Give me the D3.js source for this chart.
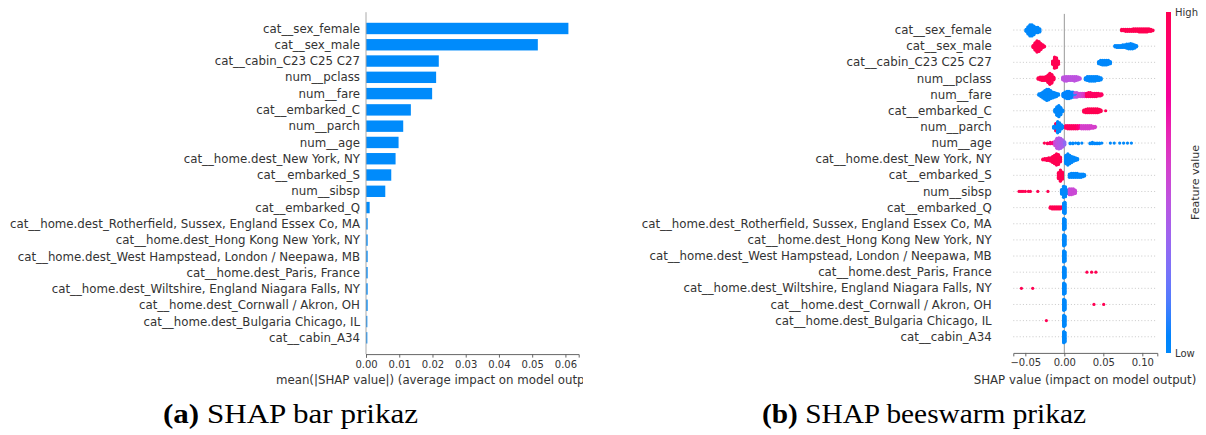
<!DOCTYPE html>
<html>
<head>
<meta charset="utf-8">
<script src="https://cdn.jsdelivr.net/npm/d3@7"></script>
<style>
  html, body { margin: 0; padding: 0; background: #ffffff; }
  svg { display: block; }
  text { font-family: "DejaVu Sans", sans-serif; }
  .caption { font-family: "Liberation Serif", "DejaVu Serif", serif; }
</style>
</head>
<body>
<svg id="fig" width="1206" height="435"></svg>
<script>
// Feature names, most important first
const features = [
  "cat__sex_female",
  "cat__sex_male",
  "cat__cabin_C23 C25 C27",
  "num__pclass",
  "num__fare",
  "cat__embarked_C",
  "num__parch",
  "num__age",
  "cat__home.dest_New York, NY",
  "cat__embarked_S",
  "num__sibsp",
  "cat__embarked_Q",
  "cat__home.dest_Rotherfield, Sussex, England Essex Co, MA",
  "cat__home.dest_Hong Kong New York, NY",
  "cat__home.dest_West Hampstead, London / Neepawa, MB",
  "cat__home.dest_Paris, France",
  "cat__home.dest_Wiltshire, England Niagara Falls, NY",
  "cat__home.dest_Cornwall / Akron, OH",
  "cat__home.dest_Bulgaria Chicago, IL",
  "cat__cabin_A34"
];

// mean(|SHAP value|) per feature
const meanAbsShap = [
  0.0609, 0.0517, 0.0219, 0.0211, 0.0199, 0.0135, 0.0112, 0.0098, 0.0089, 0.0076,
  0.0058, 0.0011, 0.0005, 0.0005, 0.0005, 0.0005, 0.0005, 0.0005, 0.0004, 0.0004
];

const barTicks = [0, 0.01, 0.02, 0.03, 0.04, 0.05, 0.06];
const swarmTicks = [-0.05, 0, 0.05, 0.1];

// Beeswarm points per feature: [SHAP value, number of points, feature value 0 = low .. 1 = high]
const swarmSexFemale = [
  [-0.049, 4, 0], [-0.0465, 12, 0], [-0.044, 18, 0], [-0.0415, 18, 0], [-0.039, 14, 0],
  [-0.0365, 9, 0], [-0.034, 9, 0], [-0.0315, 6, 0],
  [0.0735, 3, 1], [0.076, 3, 1], [0.0785, 4, 1], [0.081, 4, 1], [0.0835, 4, 1], [0.086, 4, 1],
  [0.0885, 5, 1], [0.091, 5, 1], [0.0935, 5, 1], [0.096, 6, 1], [0.0985, 6, 1], [0.101, 6, 1],
  [0.1035, 6, 1], [0.106, 6, 1], [0.1085, 5, 1], [0.111, 4, 1], [0.1135, 2, 1]
];
const swarmSexMale = [
  [-0.040, 4, 1], [-0.0375, 12, 1], [-0.035, 18, 1], [-0.0325, 16, 1], [-0.030, 10, 1],
  [-0.0275, 5, 1], [-0.0255, 2, 1],
  [0.065, 3, 0], [0.0675, 4, 0], [0.070, 4, 0], [0.0725, 4, 0], [0.075, 5, 0], [0.0775, 5, 0],
  [0.080, 7, 0], [0.0825, 8, 0], [0.085, 9, 0], [0.0875, 8, 0], [0.090, 6, 0], [0.0925, 3, 0]
];
const swarmCabinC23 = [
  [-0.015, 6, 1], [-0.0125, 18, 1], [-0.010, 16, 1], [-0.0075, 6, 1],
  [0.044, 4, 0], [0.0465, 7, 0], [0.049, 8, 0], [0.0515, 8, 0], [0.054, 8, 0], [0.0565, 7, 0],
  [0.059, 4, 0]
];
const swarmPclass = [
  [-0.0335, 3, 1], [-0.031, 5, 1], [-0.0285, 6, 1], [-0.026, 6, 1], [-0.0235, 7, 1],
  [-0.021, 12, 1], [-0.0185, 18, 1], [-0.016, 14, 1], [-0.0135, 5, 1],
  [-0.002, 5, 0.45], [0.0005, 8, 0.45], [0.003, 8, 0.45], [0.0055, 7, 0.45], [0.008, 7, 0.45],
  [0.0105, 7, 0.45], [0.013, 8, 0.45], [0.0155, 7, 0.45], [0.018, 5, 0.45], [0.020, 3, 0.45],
  [0.027, 4, 0], [0.0295, 7, 0], [0.032, 8, 0], [0.0345, 8, 0], [0.037, 8, 0], [0.0395, 8, 0],
  [0.042, 7, 0], [0.0445, 6, 0], [0.047, 4, 0]
];
const swarmFare = [
  [-0.0325, 3, 0], [-0.030, 6, 0], [-0.0275, 10, 0], [-0.025, 14, 0], [-0.0225, 18, 0],
  [-0.020, 17, 0], [-0.0175, 13, 0], [-0.015, 10, 0], [-0.0125, 8, 0], [-0.010, 6, 0],
  [-0.0075, 3, 0],
  [-0.0015, 6, 0.05], [0.001, 10, 0.05], [0.0035, 12, 0.05], [0.006, 12, 0.05], [0.0085, 10, 0.05],
  [0.011, 9, 0.05], [0.0135, 6, 0.1], [0.016, 5, 0.1],
  [0.0135, 2, 0.45], [0.016, 3, 0.45], [0.0185, 6, 0.5], [0.021, 6, 0.5], [0.0235, 6, 0.55],
  [0.026, 6, 0.6],
  [0.0285, 6, 0.95], [0.031, 7, 0.95], [0.0335, 7, 0.95], [0.036, 6, 0.95], [0.0385, 6, 0.95],
  [0.041, 6, 0.95], [0.0435, 5, 0.95], [0.046, 4, 0.95], [0.048, 3, 0.95]
];
const swarmEmbarkedC = [
  [-0.012, 5, 0], [-0.0095, 14, 0], [-0.007, 18, 0], [-0.0045, 12, 0], [-0.002, 3, 0],
  [0.025, 4, 1], [0.0275, 6, 1], [0.030, 7, 1], [0.0325, 7, 1], [0.035, 7, 1], [0.0375, 7, 1],
  [0.040, 7, 1], [0.0425, 7, 1], [0.045, 5, 1], [0.047, 3, 1], [0.053, 1, 1]
];
const swarmParch = [
  [-0.0135, 4, 0], [-0.011, 10, 0], [-0.011, 2, 1], [-0.0085, 18, 0], [-0.006, 14, 0],
  [-0.0035, 7, 0], [-0.0015, 3, 0],
  [0.002, 5, 0.95], [0.0045, 6, 0.95], [0.007, 6, 0.95], [0.0095, 6, 0.95], [0.012, 6, 0.95],
  [0.0145, 6, 0.95], [0.017, 6, 0.9], [0.0195, 5, 0.8],
  [0.022, 6, 0.55], [0.0245, 6, 0.55], [0.027, 6, 0.55], [0.0295, 6, 0.55], [0.032, 6, 0.55],
  [0.0345, 5, 0.55], [0.037, 4, 0.55], [0.0395, 3, 0.55]
];
const swarmAge = [
  [-0.0255, 1, 1], [-0.0215, 2, 1], [-0.018, 3, 0.9], [-0.015, 3, 0.85],
  [-0.012, 8, 0.5], [-0.0095, 16, 0.45], [-0.007, 18, 0.42], [-0.0045, 16, 0.4],
  [-0.002, 12, 0.38], [0.0005, 6, 0.3],
  [0.0075, 2, 0], [0.011, 2, 0], [0.0145, 1, 0], [0.018, 2, 0], [0.0225, 1, 0],
  [0.033, 2, 0], [0.036, 3, 0], [0.039, 2, 0], [0.042, 2, 0], [0.045, 2, 0], [0.048, 1, 0],
  [0.059, 1, 0], [0.064, 1, 0], [0.071, 1, 0], [0.076, 1, 0], [0.081, 1, 0], [0.086, 1, 0]
];
const swarmNewYork = [
  [-0.0275, 2, 1], [-0.025, 3, 1], [-0.0225, 4, 1], [-0.020, 5, 1], [-0.0175, 6, 1],
  [-0.015, 10, 1], [-0.0125, 14, 1], [-0.010, 18, 1], [-0.0075, 16, 1], [-0.005, 8, 1],
  [0.002, 14, 0], [0.0045, 18, 0], [0.007, 14, 0], [0.0095, 10, 0], [0.012, 7, 0],
  [0.0145, 5, 0], [0.017, 3, 0]
];
const swarmEmbarkedS = [
  [-0.0075, 10, 1], [-0.005, 18, 1], [-0.0025, 12, 1],
  [0.0065, 6, 0], [0.009, 7, 0], [0.0115, 7, 0], [0.014, 7, 0], [0.0165, 7, 0], [0.019, 6, 0],
  [0.0215, 6, 0], [0.024, 5, 0], [0.026, 3, 0]
];
const swarmSibsp = [
  [-0.058, 1, 1], [-0.0555, 1, 1], [-0.053, 1, 1], [-0.050, 1, 1], [-0.046, 1, 1],
  [-0.0435, 1, 1], [-0.034, 1, 1], [-0.021, 1, 1],
  [-0.0035, 8, 0], [-0.001, 18, 0], [0.0015, 16, 0], [0.004, 6, 0],
  [0.0065, 10, 0.5], [0.009, 10, 0.5], [0.0115, 9, 0.5], [0.014, 6, 0.5]
];
const swarmEmbarkedQ = [
  [-0.018, 3, 1], [-0.0155, 4, 1], [-0.013, 4, 1], [-0.0105, 4, 1], [-0.008, 4, 1],
  [-0.0055, 4, 1], [-0.003, 3, 1],
  [-0.0008, 16, 0], [0.0008, 18, 0]
];
const swarmRotherfield = [[-0.0008, 16, 0], [0.0008, 14, 0]];
const swarmHongKong = [[-0.0008, 16, 0], [0.0008, 14, 0]];
const swarmWestHampstead = [[-0.0008, 16, 0], [0.0008, 14, 0]];
const swarmParis = [[-0.0008, 16, 0], [0.0008, 14, 0], [0.029, 1, 1], [0.035, 1, 1], [0.0405, 1, 1]];
const swarmWiltshire = [[-0.0008, 16, 0], [0.0008, 14, 0], [-0.055, 1, 1], [-0.0405, 1, 1]];
const swarmCornwall = [[-0.0008, 16, 0], [0.0008, 14, 0], [0.038, 1, 1], [0.0505, 1, 1]];
const swarmBulgaria = [[-0.0008, 16, 0], [0.0008, 14, 0], [-0.023, 1, 1]];
const swarmCabinA34 = [[-0.0008, 16, 0], [0.0008, 14, 0]];

const swarmRows = [
  swarmSexFemale, swarmSexMale, swarmCabinC23, swarmPclass, swarmFare, swarmEmbarkedC,
  swarmParch, swarmAge, swarmNewYork, swarmEmbarkedS, swarmSibsp, swarmEmbarkedQ,
  swarmRotherfield, swarmHongKong, swarmWestHampstead, swarmParis, swarmWiltshire,
  swarmCornwall, swarmBulgaria, swarmCabinA34
];

const svg = d3.select("#fig");
const blue = "#008bfb";
const textColor = "#333333";
const axisColor = "#666666";
const labelSize = 11.8;

// red_blue colour map: constant lightness, hue swept from blue to red in LCh
const featureColor = d3.interpolateHcl(d3.hcl(266.9, 70, 54), d3.hcl(20.3, 90, 54));

/* ---------------- (a) bar chart ---------------- */
const xBar = d3.scaleLinear().domain([0, 0.064]).range([366, 578.7]);
const yBar = d3.scalePoint().domain(features).range([12.2, 354.1]).padding(1);
const barH = yBar.step() * 0.7;

const gBar = svg.append("g");
gBar.selectAll("rect.bar")
  .data(features)
  .join("rect")
  .attr("class", "bar")
  .attr("x", xBar(0))
  .attr("y", d => yBar(d) - barH / 2)
  .attr("width", (d, i) => xBar(meanAbsShap[i]) - xBar(0))
  .attr("height", barH)
  .attr("fill", blue);

gBar.append("line")
  .attr("x1", xBar(0)).attr("x2", xBar(0))
  .attr("y1", 12.2).attr("y2", 354.1)
  .attr("stroke", "#aaaaaa").attr("stroke-width", 1);

gBar.selectAll("text.ylab")
  .data(features)
  .join("text")
  .attr("class", "ylab")
  .attr("x", 360)
  .attr("y", d => yBar(d))
  .attr("dy", "0.35em")
  .attr("text-anchor", "end")
  .attr("font-size", labelSize)
  .attr("fill", textColor)
  .text(d => d);

const barAxis = gBar.append("g")
  .attr("transform", "translate(0,354.1)")
  .call(d3.axisBottom(xBar).tickValues(barTicks).tickFormat(d3.format(".2f")).tickSize(3.5).tickPadding(3));
barAxis.select(".domain").attr("stroke", axisColor);
barAxis.selectAll(".tick line").attr("stroke", axisColor);
barAxis.selectAll(".tick text").attr("font-size", 10).attr("fill", textColor)
  .attr("font-family", "DejaVu Sans");

svg.append("clipPath").attr("id", "clipA")
  .append("rect").attr("x", 0).attr("y", 0).attr("width", 583).attr("height", 435);
gBar.append("text")
  .attr("clip-path", "url(#clipA)")
  .attr("x", (xBar.range()[0] + xBar.range()[1]) / 2)
  .attr("y", 384)
  .attr("text-anchor", "middle")
  .attr("font-size", labelSize)
  .attr("fill", textColor)
  .text("mean(|SHAP value|) (average impact on model output magnitude)");

/* ---------------- (b) beeswarm ---------------- */
const xSw = d3.scaleLinear().domain([-0.0654, 0.1192]).range([1013.3, 1157.3]);
const ySw = d3.scalePoint().domain(features).range([13.9, 352.9]).padding(1);
const halfRow = 5.9;
const dotR = 1.6;

const gSw = svg.append("g");

// dotted row guides
gSw.selectAll("line.guide")
  .data(features)
  .join("line")
  .attr("class", "guide")
  .attr("x1", xSw.range()[0]).attr("x2", xSw.range()[1])
  .attr("y1", d => ySw(d)).attr("y2", d => ySw(d))
  .attr("stroke", "#bbbbbb").attr("stroke-width", 0.8)
  .attr("stroke-dasharray", "1 2.2");

// zero line
gSw.append("line")
  .attr("x1", xSw(0)).attr("x2", xSw(0))
  .attr("y1", 13.9).attr("y2", 352.9)
  .attr("stroke", "#999999").attr("stroke-width", 1);

// stack the points of each bin alternately above and below the row
function layoutRow(groups) {
  const counts = new Map();
  const pts = [];
  groups.forEach(([v, n, lv]) => {
    const key = v.toFixed(5);
    for (let k = 0; k < n; k++) {
      const c = counts.get(key) || 0;
      counts.set(key, c + 1);
      const off = c === 0 ? 0 : (c % 2 ? (c + 1) / 2 : -c / 2);
      pts.push({ v, lv, off });
    }
  });
  const maxOff = d3.max(pts, p => Math.abs(p.off)) || 1;
  pts.forEach(p => { p.dy = p.off / maxOff; });
  return pts;
}

const swarmPoints = [];
swarmRows.forEach((groups, i) => {
  layoutRow(groups).forEach(p => swarmPoints.push({ ...p, row: features[i] }));
});

gSw.selectAll("circle.pt")
  .data(swarmPoints)
  .join("circle")
  .attr("class", "pt")
  .attr("cx", d => xSw(d.v))
  .attr("cy", d => ySw(d.row) + d.dy * halfRow)
  .attr("r", dotR)
  .attr("fill", d => featureColor(d.lv));

gSw.selectAll("text.ylab")
  .data(features)
  .join("text")
  .attr("class", "ylab")
  .attr("x", 991.7)
  .attr("y", d => ySw(d))
  .attr("dy", "0.35em")
  .attr("text-anchor", "end")
  .attr("font-size", labelSize)
  .attr("fill", textColor)
  .text(d => d);

const swAxis = gSw.append("g")
  .attr("transform", "translate(0,352.9)")
  .call(d3.axisBottom(xSw).tickValues(swarmTicks).tickFormat(d3.format(".2f")).tickSize(3.5).tickPadding(3));
swAxis.select(".domain").attr("stroke", axisColor);
swAxis.selectAll(".tick line").attr("stroke", axisColor);
swAxis.selectAll(".tick text").attr("font-size", 10).attr("fill", textColor)
  .attr("font-family", "DejaVu Sans");

gSw.append("text")
  .attr("x", 1085)
  .attr("y", 384)
  .attr("text-anchor", "middle")
  .attr("font-size", labelSize)
  .attr("fill", textColor)
  .text("SHAP value (impact on model output)");

// colour bar
const cbTop = 12, cbBottom = 353, cbX = 1166, cbW = 5;
const grad = svg.append("defs").append("linearGradient")
  .attr("id", "cbGrad").attr("x1", 0).attr("x2", 0).attr("y1", 1).attr("y2", 0);
d3.range(0, 1.0001, 0.05).forEach(t => {
  grad.append("stop").attr("offset", t).attr("stop-color", featureColor(t));
});
svg.append("rect")
  .attr("x", cbX).attr("y", cbTop).attr("width", cbW).attr("height", cbBottom - cbTop)
  .attr("fill", "url(#cbGrad)");
svg.append("text").attr("x", cbX + cbW + 4).attr("y", cbTop).attr("dy", "0.35em")
  .attr("font-size", 10).attr("fill", textColor).text("High");
svg.append("text").attr("x", cbX + cbW + 4).attr("y", cbBottom).attr("dy", "0.35em")
  .attr("font-size", 10).attr("fill", textColor).text("Low");
svg.append("text")
  .attr("transform", `translate(1199,${(cbTop + cbBottom) / 2}) rotate(-90)`)
  .attr("text-anchor", "middle")
  .attr("font-size", 11).attr("fill", textColor)
  .text("Feature value");

/* ---------------- captions ---------------- */
function caption(x, width, tag, label) {
  const t = svg.append("text").attr("class", "caption")
    .attr("x", x - width / 2).attr("y", 423)
    .attr("font-size", 26.5).attr("fill", "#000")
    .attr("textLength", width).attr("lengthAdjust", "spacingAndGlyphs");
  t.append("tspan").attr("font-weight", "bold").text(tag);
  t.append("tspan").text(" " + label);
}
caption(290.5, 255, "(a)", "SHAP bar prikaz");
caption(924, 324, "(b)", "SHAP beeswarm prikaz");
</script>
</body>
</html>
